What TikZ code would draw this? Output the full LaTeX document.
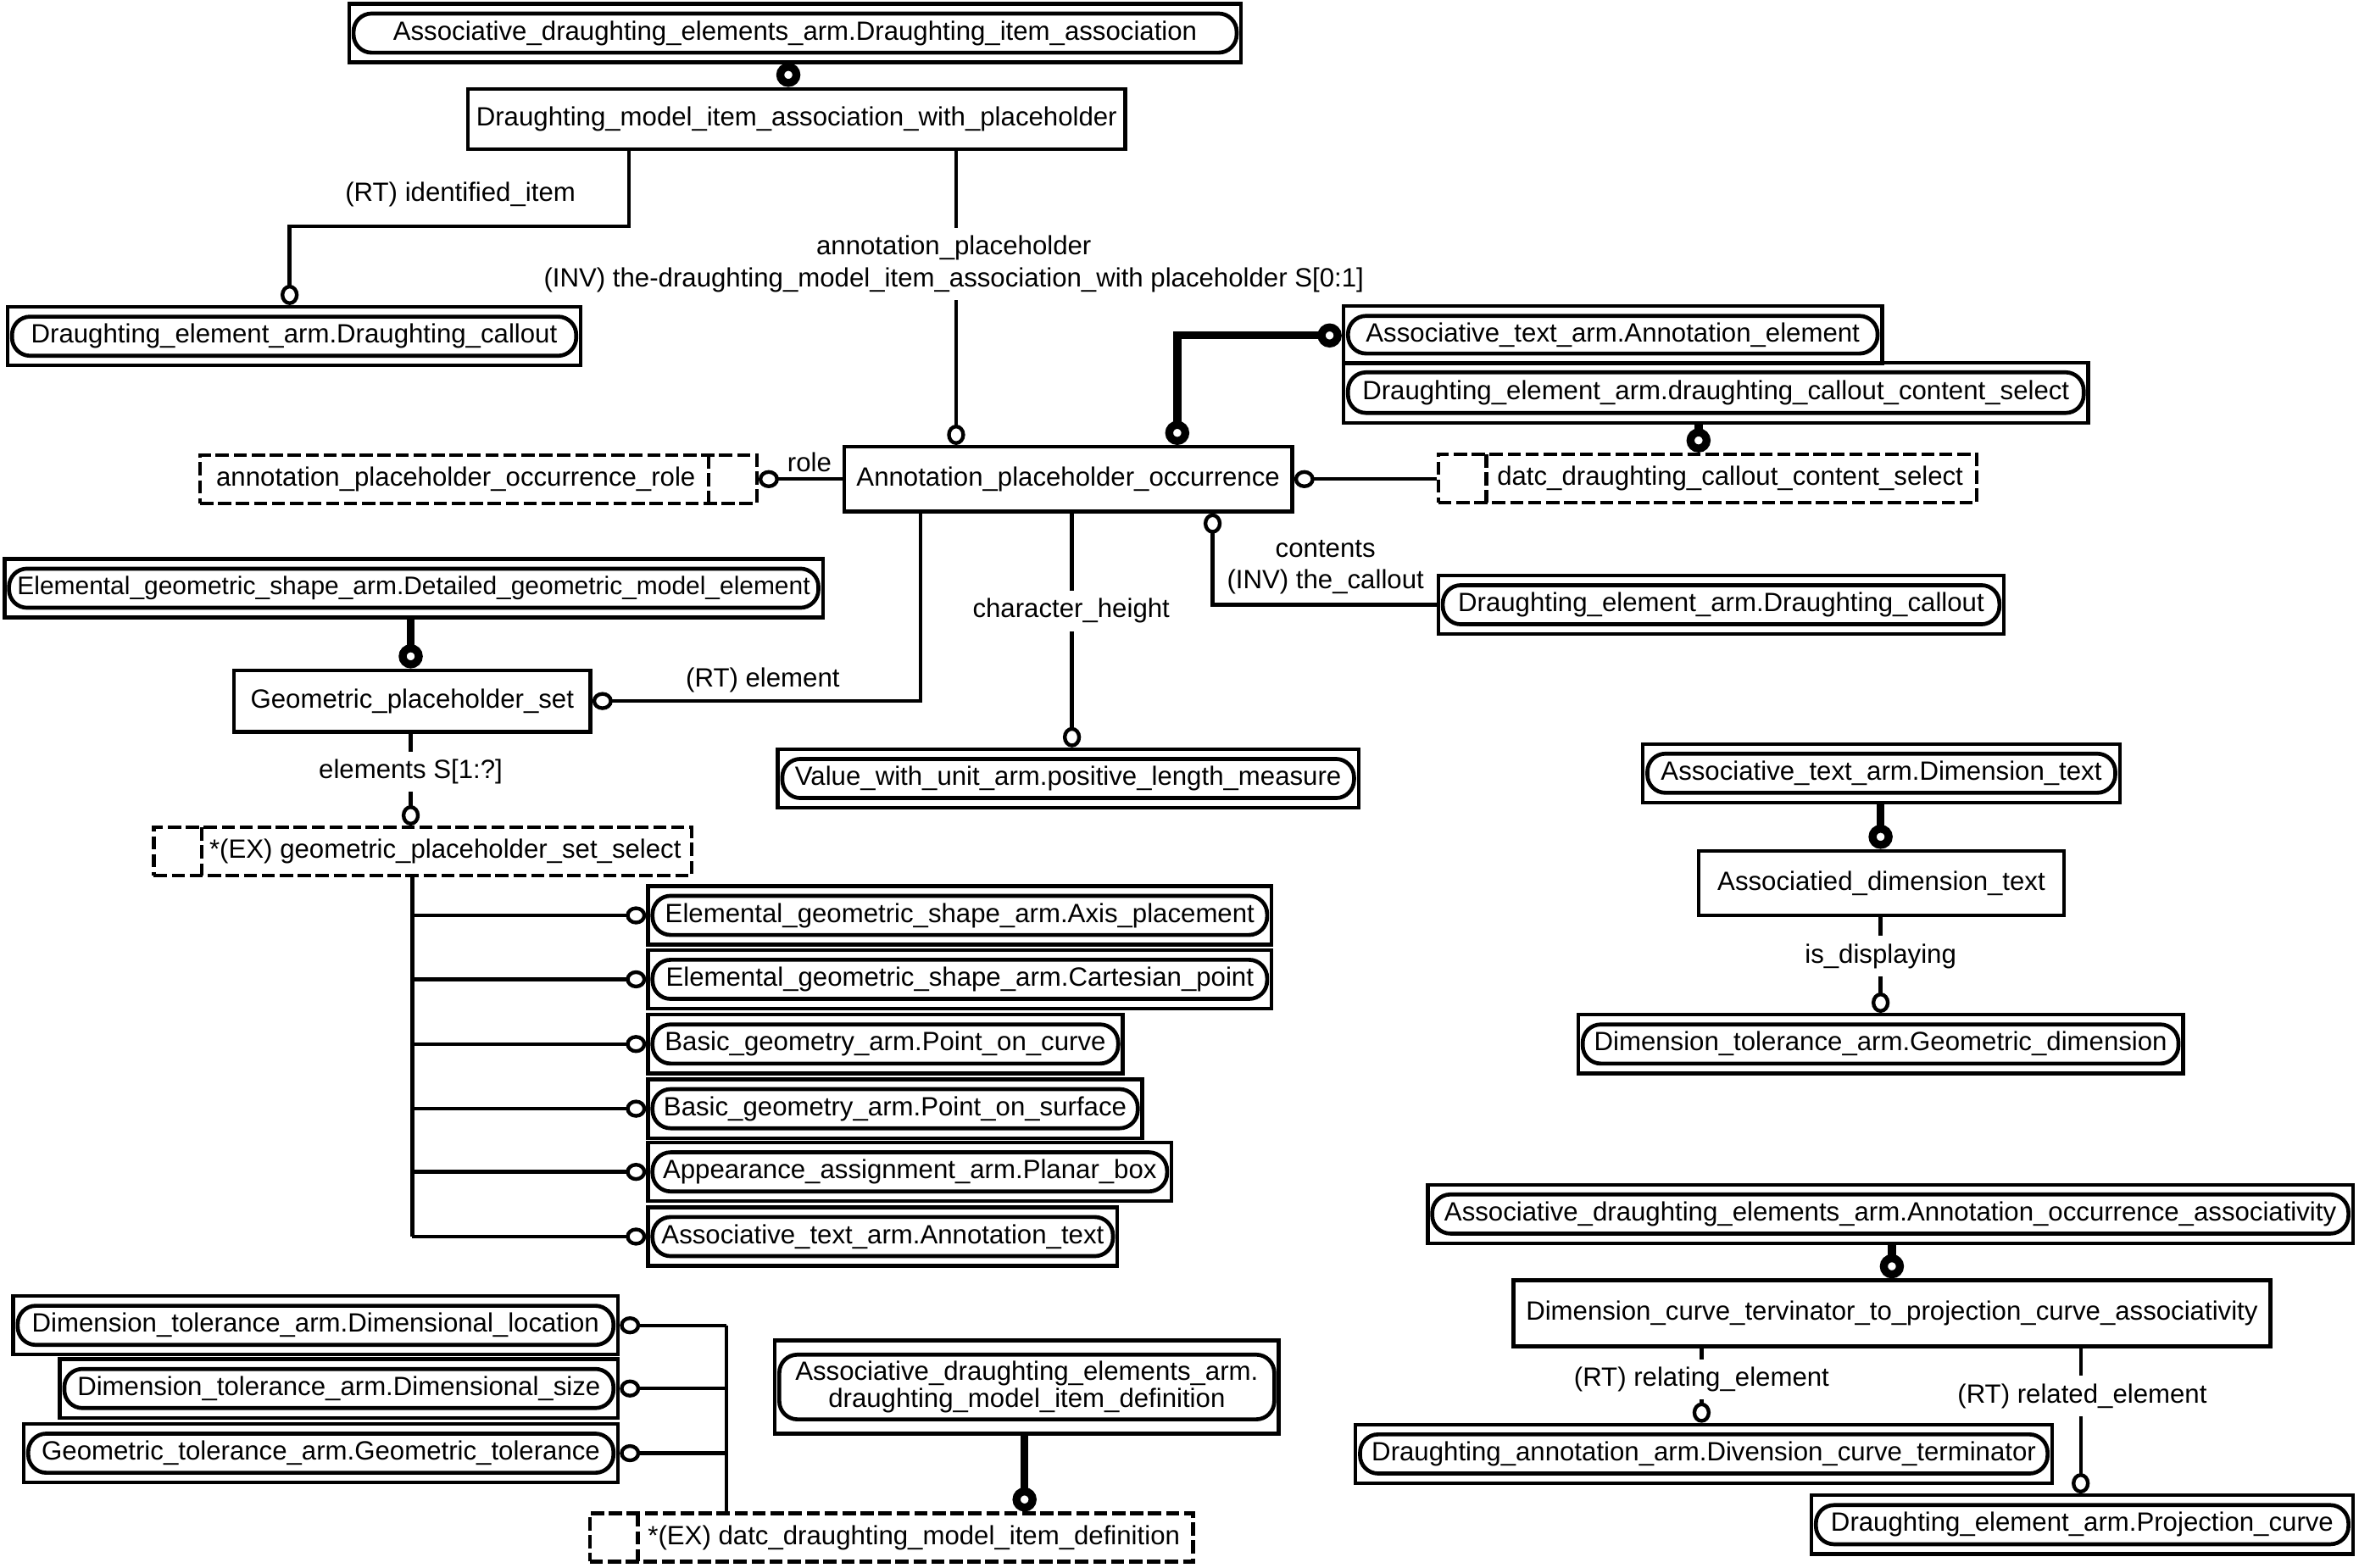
\documentclass[tikz,border=0pt]{standalone}
\usepackage{fontspec}
\setmainfont{Liberation Sans}
\usetikzlibrary{arrows.meta}

\begin{document}
\begin{tikzpicture}[
    every node/.style={color=black, font=\fontsize{10}{12}\selectfont},
    entity/.style={draw, line width=1.4pt, minimum height=0.82cm, inner xsep=0.08cm},
    refbox/.style={draw, line width=1.4pt, minimum height=0.78cm, inner xsep=0.18cm,
        path picture={\draw[line width=1.5pt, rounded corners=0.24cm]
            ([xshift=0.06cm,yshift=-#1]path picture bounding box.north west) rectangle
            ([xshift=-0.06cm,yshift=#1]path picture bounding box.south east);}},
    refbox/.default=0.13cm,
    sel/.style={draw, line width=1.4pt, dash pattern=on 5pt off 1.8pt,
        minimum height=0.64cm, inner xsep=0.08cm},
    selL/.style={sel, path picture={\draw[line width=1.4pt, dash pattern=on 5pt off 1.8pt]
            ([xshift=0.64cm]path picture bounding box.north west) --
            ([xshift=0.64cm]path picture bounding box.south west);}},
    selR/.style={sel, path picture={\draw[line width=1.4pt, dash pattern=on 5pt off 1.8pt]
            ([xshift=-0.64cm]path picture bounding box.north east) --
            ([xshift=-0.64cm]path picture bounding box.south east);}},
    link/.style={line width=1.4pt},
    rel/.style={link, -{Circle[open, length=0.27cm, width=0.24cm]}},
    relback/.style={link, {Circle[open, length=0.27cm, width=0.24cm]}-},
    super/.style={line width=3pt, -{Circle[open, length=0.32cm, width=0.32cm]}},
    cut/.style={fill=white, inner xsep=1pt, inner ysep=3pt}
    ]

\useasboundingbox (0,0) rectangle (31.36,-20.84);

% entities
\node[refbox, minimum width=11.86cm] (t1) at (10.57,-0.44)
    {Associative\_draughting\_elements\_arm.Draughting\_item\_association};
\node[entity, minimum width=8.74cm, minimum height=0.80cm] (b1) at (10.59,-1.58)
    {Draughting\_model\_item\_association\_with\_placeholder};
\node[refbox, minimum width=7.62cm] (c1) at (3.91,-4.47)
    {Draughting\_element\_arm.Draughting\_callout};
\node[refbox, minimum width=7.16cm, minimum height=0.76cm] (ae) at (21.44,-4.45)
    {Associative\_text\_arm.Annotation\_element};
\node[refbox, minimum width=9.90cm, minimum height=0.80cm] (ds) at (22.81,-5.22)
    {Draughting\_element\_arm.draughting\_callout\_content\_select};
\node[selL, minimum width=7.16cm] (dccs) at (22.70,-6.36)
    {\hspace*{0.6cm}datc\_draughting\_callout\_content\_select};
\node[entity, minimum width=5.96cm, minimum height=0.86cm] (apo) at (14.20,-6.37)
    {Annotation\_placeholder\_occurrence};
\node[selR, minimum width=7.40cm] (apor) at (6.36,-6.37)
    {annotation\_placeholder\_occurrence\_role\hspace*{0.6cm}};
\node[refbox, minimum width=7.52cm] (c2) at (22.88,-8.04)
    {Draughting\_element\_arm.Draughting\_callout};
\node[refbox, minimum width=10.88cm, inner xsep=0.12cm, font=\fontsize{9.6}{12}\selectfont] (eg) at (5.50,-7.82)
    {Elemental\_geometric\_shape\_arm.Detailed\_geometric\_model\_element};
\node[entity, minimum width=4.74cm] (gps) at (5.48,-9.32)
    {Geometric\_placeholder\_set};
\node[refbox, minimum width=7.72cm] (vwu) at (14.20,-10.35)
    {Value\_with\_unit\_arm.positive\_length\_measure};
\node[selL, minimum width=7.15cm] (gpss) at (5.62,-11.32)
    {\hspace*{0.6cm}*(EX) geometric\_placeholder\_set\_select};

% select items
\node[refbox, anchor=west, minimum width=8.29cm] (s1) at (8.59,-12.17)
    {Elemental\_geometric\_shape\_arm.Axis\_placement};
\node[refbox, anchor=west, minimum width=8.29cm] (s2) at (8.59,-13.02)
    {Elemental\_geometric\_shape\_arm.Cartesian\_point};
\node[refbox, anchor=west, minimum width=6.31cm] (s3) at (8.59,-13.88)
    {Basic\_geometry\_arm.Point\_on\_curve};
\node[refbox, anchor=west, minimum width=6.57cm] (s4) at (8.59,-14.74)
    {Basic\_geometry\_arm.Point\_on\_surface};
\node[refbox, anchor=west, minimum width=6.96cm] (s5) at (8.59,-15.58)
    {Appearance\_assignment\_arm.Planar\_box};
\node[refbox, anchor=west, minimum width=6.15cm] (s6) at (8.59,-16.44)
    {Associative\_text\_arm.Annotation\_text};

% dimension text
\node[refbox, minimum width=6.34cm] (adt) at (25.01,-10.28)
    {Associative\_text\_arm.Dimension\_text};
\node[entity, minimum width=4.86cm, minimum height=0.86cm] (adim) at (25.01,-11.74)
    {Associatied\_dimension\_text};
\node[refbox, minimum width=8.04cm] (gd) at (25.00,-13.88)
    {Dimension\_tolerance\_arm.Geometric\_dimension};

% associativity
\node[refbox, minimum width=12.30cm] (aoa) at (25.13,-16.14)
    {Associative\_draughting\_elements\_arm.Annotation\_occurrence\_associativity};
\node[entity, minimum width=10.06cm, minimum height=0.88cm] (dct) at (25.15,-17.46)
    {Dimension\_curve\_tervinator\_to\_projection\_curve\_associativity};
\node[refbox, minimum width=9.26cm] (dat) at (22.65,-19.33)
    {Draughting\_annotation\_arm.Divension\_curve\_terminator};
\node[refbox, minimum width=7.20cm] (dpc) at (27.68,-20.27)
    {Draughting\_element\_arm.Projection\_curve};

% model item definition
\node[refbox, anchor=east, minimum width=8.04cm] (dl) at (8.24,-17.62)
    {Dimension\_tolerance\_arm.Dimensional\_location};
\node[refbox, anchor=east, minimum width=7.42cm] (dsz) at (8.24,-18.46)
    {Dimension\_tolerance\_arm.Dimensional\_size};
\node[refbox, anchor=east, minimum width=7.90cm] (gt) at (8.24,-19.32)
    {Geometric\_tolerance\_arm.Geometric\_tolerance};
\node[selL, minimum width=8.02cm] (datc) at (11.85,-20.44)
    {\hspace*{0.6cm}*(EX) datc\_draughting\_model\_item\_definition};
\node[refbox=0.19cm, minimum width=6.70cm, minimum height=1.24cm, align=center,
    font=\fontsize{10}{10.2}\selectfont] (admid) at (13.65,-18.44)
    {Associative\_draughting\_elements\_arm.\\draughting\_model\_item\_definition};

% junctions
\coordinate (xa) at (10.48,0);
\coordinate (ii) at (8.36,-3.01);
\coordinate (iic) at (3.85,-3.01);
\coordinate (xap) at (12.71,0);
\coordinate (xae) at (15.65,-4.46);
\coordinate (xds) at (22.58,0);
\coordinate (xct) at (16.12,-8.04);
\coordinate (xch) at (14.25,0);
\coordinate (xel) at (12.24,-9.32);
\coordinate (xg) at (5.46,0);
\coordinate (xtr) at (5.48,0);
\coordinate (xad) at (25.00,0);
\coordinate (xao) at (25.15,0);
\coordinate (xrg) at (22.62,0);
\coordinate (xrd) at (27.66,0);
\coordinate (bus) at (9.66,0);
\coordinate (xdm) at (13.62,0);

% connectors
\draw[super] (t1.south -| xa) -- (b1.north -| xa);
\draw[rel] (b1.south -| ii) -- (ii) -- (iic) -- (c1.north -| iic);
\draw[rel] (b1.south -| xap) -- (apo.north -| xap);
\draw[super, {Circle[open, length=0.32cm, width=0.32cm]}-{Circle[open, length=0.32cm, width=0.32cm]}]
    (apo.north -| xae) -- (xae) -- (ae.west |- xae);
\draw[super] (ds.south -| xds) -- (dccs.north -| xds);
\draw[relback] (apo.east) -- (dccs.west |- apo.east);
\draw[rel] (apo.west) -- (apor.east |- apo.west);
\draw[relback] (apo.south -| xct) -- (xct) -- (c2.west |- xct);
\draw[rel] (apo.south -| xch) -- (vwu.north -| xch);
\draw[rel] (apo.south -| xel) -- (xel) -- (gps.east |- xel);
\draw[super] (eg.south -| xg) -- (gps.north -| xg);
\draw[rel] (gps.south -| xg) -- (gpss.north -| xg);
\draw[link] (gpss.south -| xtr) -- (s6.west -| xtr);
\foreach \s in {s1,s2,s3,s4,s5,s6}
    \draw[rel] (\s.west -| xtr) -- (\s.west);
\draw[super] (adt.south -| xad) -- (adim.north -| xad);
\draw[rel] (adim.south -| xad) -- (gd.north -| xad);
\draw[super] (aoa.south -| xao) -- (dct.north -| xao);
\draw[rel] (dct.south -| xrg) -- (dat.north -| xrg);
\draw[rel] (dct.south -| xrd) -- (dpc.north -| xrd);
\foreach \n in {dl,dsz,gt}
    \draw[relback] (\n.east) -- (\n.east -| bus);
\draw[link] (dl.east -| bus) -- (datc.north -| bus);
\draw[super] (admid.south -| xdm) -- (datc.north -| xdm);

% labels
\node (lii) at (6.12,-2.59) {(RT) identified\_item};
\node[cut, align=center] (lap) at (12.68,-3.51)
    {annotation\_placeholder\\(INV) the-draughting\_model\_item\_association\_with placeholder S[0:1]};
\node (lrole) at (10.76,-6.14) {role};
\node[align=center] (lcont) at (17.62,-7.54) {contents\\(INV) the\_callout};
\node[cut] (lch) at (14.24,-8.12) {character\_height};
\node (lel) at (10.14,-9.04) {(RT) element};
\node[cut] (lels) at (5.46,-10.26) {elements S[1:?]};
\node[cut] (ldisp) at (25.00,-12.71) {is\_displaying};
\node[cut] (lrg) at (22.62,-18.34) {(RT) relating\_element};
\node[cut] (lrd) at (27.68,-18.56) {(RT) related\_element};

\end{tikzpicture}
\end{document}
